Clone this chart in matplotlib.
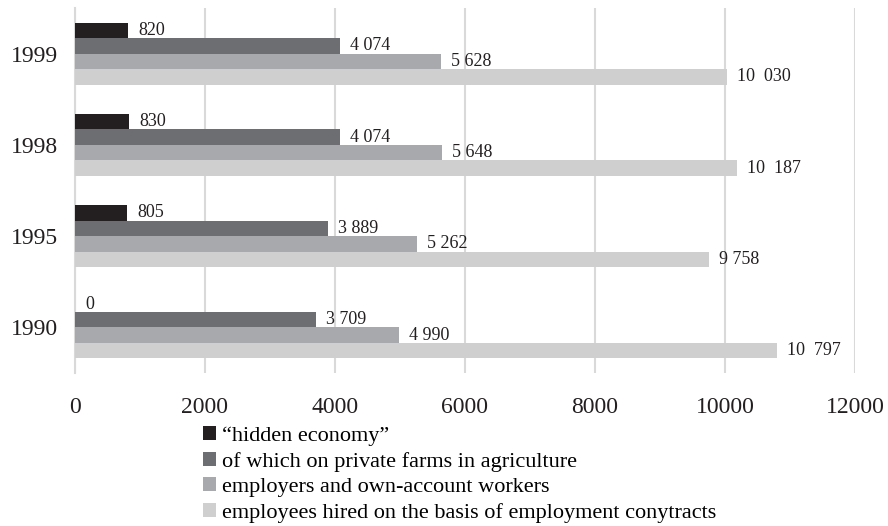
import numpy as np
import matplotlib.pyplot as plt

plt.rcParams['font.family'] = ['Liberation Serif', 'DejaVu Serif']

years = ['1990', '1995', '1998', '1999']
hidden = [0, 805, 830, 820]
farms = [3709, 3889, 4074, 4074]
employers = [4990, 5262, 5648, 5628]
employees = [10797, 9758, 10187, 10030]

names = ['\u201chidden economy\u201d',
         'of which on private farms in agriculture',
         'employers and own-account workers',
         'employees hired on the basis of employment conytracts']
colors = ['#231f20', '#6d6e71', '#a7a9ac', '#cfcfcf']


def fmt(v):
    # thousands separated by a space, the 10 000s got a wider gap in the source
    if v >= 10000:
        return '%d  %03d' % (v // 1000, v % 1000)
    if v >= 1000:
        return '%d %03d' % (v // 1000, v % 1000)
    return str(v)


fig = plt.figure(figsize=(8.88, 5.26), dpi=100)
ax = fig.add_axes([75 / 888, 1 - 373 / 526, 780 / 888, 365 / 526])

y = np.arange(len(years))
h = 0.17
series = [hidden, farms, employers, employees]
offs = [1.5 * h, 0.5 * h, -0.5 * h, -1.5 * h]
for vals, off, col, name in zip(series, offs, colors, names):
    bars = ax.barh(y + off, vals, height=h, color=col, label=name, zorder=3)
    for b, v in zip(bars, vals):
        ax.annotate(fmt(v), (b.get_width(), b.get_y() + b.get_height() / 2),
                    xytext=(10, 0), textcoords='offset pixels',
                    va='center', ha='left', fontsize=13, color='#231f20')

ax.set_xlim(0, 12000)
ax.set_ylim(-0.5, 3.5)
ax.set_xticks(np.arange(0, 12001, 2000))
ax.set_yticks(y)
ax.set_yticklabels(years)
ax.tick_params(length=0, labelsize=17, colors='#231f20')
ax.tick_params(axis='x', pad=17)
ax.tick_params(axis='y', pad=12)
ax.grid(axis='x', color='#d9d9d9', linewidth=1.5, zorder=0)
for s in ['top', 'right', 'bottom']:
    ax.spines[s].set_visible(False)
ax.spines['left'].set_color('#d9d9d9')
ax.spines['left'].set_linewidth(1.5)

fig.legend(loc='upper left', bbox_to_anchor=(203 / 888, 1 - 426 / 526),
           frameon=False, fontsize=16, handlelength=0.6, handleheight=0.6,
           handletextpad=0.25, labelspacing=0.26, borderaxespad=0, borderpad=0)

fig.savefig('out.png', dpi=100)
